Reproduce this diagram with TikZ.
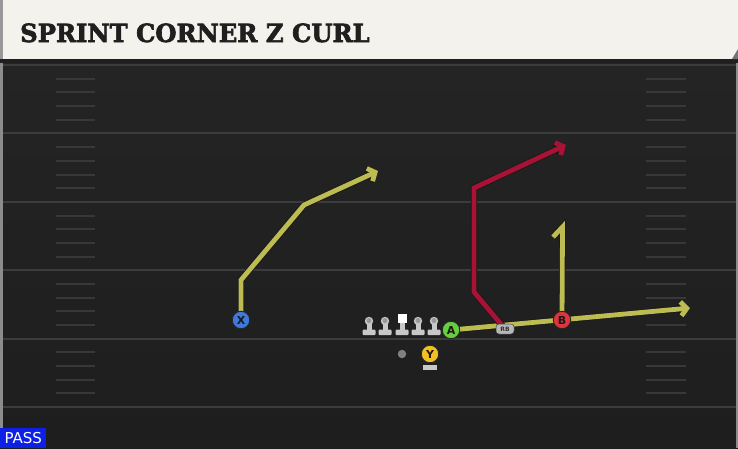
\documentclass[tikz,border=0pt]{standalone}
\usepackage{fontspec}
\setmainfont{DejaVu Serif}
\setsansfont{DejaVu Sans}
\newfontfamily\titlefont[FakeBold=2.5]{DejaVu Serif}
\usetikzlibrary{arrows.meta}

\definecolor{field}{RGB}{36,36,36}
\definecolor{fieldlow}{RGB}{30,30,30}
\definecolor{fieldline}{RGB}{60,60,60}
\definecolor{hashline}{RGB}{56,56,56}
\definecolor{cream}{RGB}{244,242,236}
\definecolor{routeyellow}{RGB}{189,188,82}
\definecolor{routered}{RGB}{168,18,52}
\definecolor{xblue}{RGB}{62,122,222}
\definecolor{agreen}{RGB}{104,204,64}
\definecolor{bred}{RGB}{222,52,62}
\definecolor{ygold}{RGB}{242,192,34}
\definecolor{linegray}{RGB}{200,200,200}
\definecolor{passblue}{RGB}{12,32,230}

\pgfdeclarelayer{field}
\pgfdeclarelayer{routes}
\pgfsetlayers{field,routes,main}

\tikzset{
  player/.style={circle, draw=black!85, line width=0.9pt, inner sep=0pt,
    minimum size=17.5pt, font=\sffamily\bfseries\fontsize{11}{11}\selectfont, text=black!90},
  route/.style={line width=4.8pt, draw=routeyellow,
    preaction={draw=black!90, line width=6.4pt}},
  redroute/.style={route, draw=routered},
  arrowed/.style={-{Straight Barb[length=6pt,width=14pt]}},
  yardline/.style={draw=fieldline, line width=2pt},
  hashmark/.style={draw=hashline, line width=2pt},
  lineman/.pic={
    \fill[linegray, rounded corners=1pt] (-6.5,8.5) rectangle (6.5,14);
    \fill[linegray] (-2.5,0) rectangle (2.5,10);
    \fill[linegray] (0,0) circle[radius=4.2pt];
    \fill[black!40] (0,-0.5) circle[radius=2.6pt];
  },
  center/.pic={
    \fill[linegray, rounded corners=1pt] (-6.5,8.5) rectangle (6.5,14);
    \fill[linegray] (-2.5,0) rectangle (2.5,10);
    \fill[white] (-4.5,-7) rectangle (4.5,1.5);
  }
}

\begin{document}
\begin{tikzpicture}[x=1pt, y=-1pt]
    \useasboundingbox (0,0) rectangle (738,448);

    % field and header
    \begin{pgfonlayer}{field}
        \shade[top color=field, bottom color=fieldlow] (0,59) rectangle (738,448);
        \foreach \i in {0,...,5}
            \draw[yardline] (0,65+68.4*\i) -- (738,65+68.4*\i);
        \foreach \i in {0,...,4}
            \foreach \k in {1,...,4} {
                \draw[hashmark] (56,65+68.4*\i+13.7*\k) -- (95,65+68.4*\i+13.7*\k);
                \draw[hashmark] (646,65+68.4*\i+13.7*\k) -- (686,65+68.4*\i+13.7*\k);
            }
        \fill[black!45] (0,59) rectangle (2.5,448);
        \fill[black!45] (735.5,59) rectangle (738,448);
        \fill[black!88] (0,59) rectangle (738,63);
        \fill[cream] (0,0) rectangle (738,59);
        \fill[black!40] (0,0) rectangle (3,59);
        \fill[black!55] (732,59) -- (738,49) -- (738,59) -- cycle;
    \end{pgfonlayer}
    \node[anchor=base west, inner sep=0pt, text=black!88,
        font=\titlefont\bfseries\fontsize{25}{25}\selectfont] (title) at (20,42)
        {\scalebox{0.97}[1]{SPRINT CORNER Z CURL}};

    % players
    \node[player, fill=xblue] (X) at (241,320) {X};
    \node[player, fill=agreen] (A) at (451,330) {A};
    \node[player, fill=bred] (B) at (562,320) {B};
    \node[player, fill=ygold] (Y) at (430,354) {Y};
    \fill[linegray] (423,365) rectangle (437,369.5);
    \node[circle, fill=black!50, minimum size=8.5pt, inner sep=0pt] (qb) at (402,354) {};
    \node[rectangle, rounded corners=3pt, fill=black!28, draw=black!75, line width=0.5pt,
        minimum width=18pt, minimum height=10pt, inner sep=0pt, text=black!80,
        font=\sffamily\bfseries\fontsize{6}{6}\selectfont] (RB) at (505,329) {RB};
    \pic at (369,321) {lineman};
    \pic at (385,321) {lineman};
    \pic at (402,321) {center};
    \pic at (418,321) {lineman};
    \pic at (434,321) {lineman};

    % route points
    \coordinate (x1) at (241,280);
    \coordinate (x2) at (304,205);
    \coordinate (x3) at (378,171);
    \coordinate (a1) at (690,308);
    \coordinate (b1) at (562.5,227);
    \coordinate (b2) at (553,237);
    \coordinate (r1) at (474,292);
    \coordinate (r2) at (474,188);
    \coordinate (r3) at (566,145);

    \begin{pgfonlayer}{routes}
        \draw[route, arrowed] (X.center) -- (x1) -- (x2) -- (x3);
        \draw[route, arrowed] (A.center) -- (a1);
        \draw[route] (B.center) -- (b1) -- (b2);
        \draw[redroute, arrowed] (RB.center) -- (r1) -- (r2) -- (r3);
    \end{pgfonlayer}

    % play type
    \node[anchor=south west, fill=passblue, text=white, inner sep=2pt,
        minimum width=46pt, minimum height=20pt,
        font=\sffamily\fontsize{15}{15}\selectfont] (pass) at (0,448) {PASS};
\end{tikzpicture}
\end{document}
